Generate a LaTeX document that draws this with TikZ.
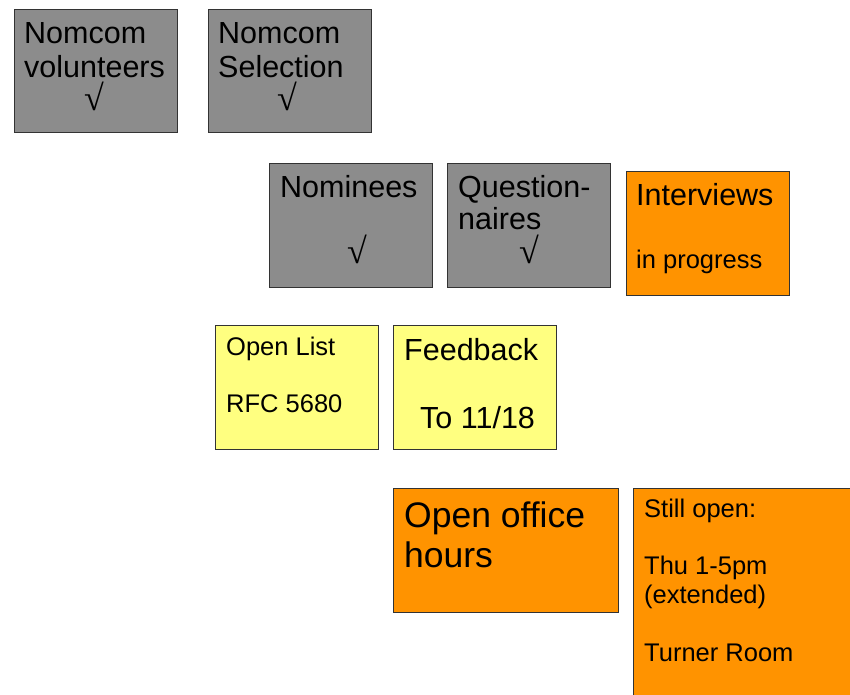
\documentclass[tikz,border=0pt]{standalone}
\usepackage{fontspec}
\setmainfont{Liberation Sans}
\newfontfamily\chkfont{Liberation Serif}
\definecolor{boxgray}{HTML}{8C8C8C}
\definecolor{boxorange}{HTML}{FF9300}
\definecolor{boxyellow}{HTML}{FFFF80}
\definecolor{edge}{HTML}{333333}
\tikzset{
  card/.style={draw=edge, line width=0.9pt, inner sep=0pt},
  graycard/.style={card, fill=boxgray},
  orangecard/.style={card, fill=boxorange},
  yellowcard/.style={card, fill=boxyellow},
  txt/.style={anchor=base west, inner sep=0pt, text=black},
  big/.style={txt, font=\fontsize{30.5}{34}\selectfont},
  mid/.style={txt, font=\fontsize{25.5}{29}\selectfont},
  huge/.style={txt, font=\fontsize{35.5}{40}\selectfont},
  chk/.style={anchor=base, inner sep=0pt, text height=24pt, text depth=2pt, font=\chkfont\fontsize{36}{40}\selectfont}
}
\begin{document}
\begin{tikzpicture}[x=1pt,y=-1pt]
\path[clip] (0,0) rectangle (850,694);
\fill[white] (0,0) rectangle (850,694);
% boxes
\draw[graycard] (14,9) rectangle (177,132) coordinate (b1);
\draw[graycard] (208,9) rectangle (371,132) coordinate (b2);
\draw[graycard] (269,163) rectangle (432,287) coordinate (b3);
\draw[graycard] (447,163) rectangle (610,287) coordinate (b4);
\draw[orangecard] (626,171) rectangle (789,295) coordinate (b5);
\draw[yellowcard] (215,325) rectangle (378,449) coordinate (b6);
\draw[yellowcard] (393,325) rectangle (556,449) coordinate (b7);
\draw[orangecard] (393,488) rectangle (618,612) coordinate (b8);
\draw[orangecard] (633,488) rectangle (900,740) coordinate (b9);
% texts
\node[big] (t1a) at (24,43) {Nomcom};
\node[big] (t1b) at (24,77) {volunteers};
\node[chk] (c1) at (94,110) {√};
\node[big] (t2a) at (218,43) {Nomcom};
\node[big] (t2b) at (218,77) {Selection};
\node[chk] (c2) at (287,110) {√};
\node[big] (t3a) at (280,197) {Nominees};
\node[chk] (c3) at (357,263) {√};
\node[big] (t4a) at (458,197) {Question-};
\node[big] (t4b) at (458,229) {naires};
\node[chk] (c4) at (529,263) {√};
\node[big] (t5a) at (636,205) {Interviews};
\node[mid] (t5b) at (636,268) {in progress};
\node[mid] (t6a) at (226,355) {Open List};
\node[mid] (t6b) at (226,412) {RFC 5680};
\node[big] (t7a) at (404,360) {Feedback};
\node[big] (t7b) at (420,428) {To 11/18};
\node[huge] (t8a) at (404,527) {Open office};
\node[huge] (t8b) at (404,567) {hours};
\node[mid] (t9a) at (644,517) {Still open:};
\node[mid] (t9b) at (644,574) {Thu 1-5pm};
\node[mid] (t9c) at (644,603) {(extended)};
\node[mid] (t9d) at (644,661) {Turner Room};
\end{tikzpicture}
\end{document}
